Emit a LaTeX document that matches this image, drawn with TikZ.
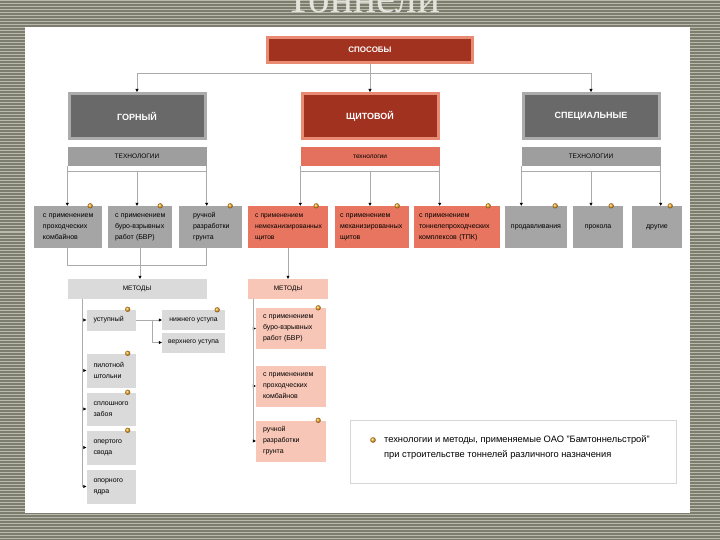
\documentclass[tikz,border=0pt]{standalone}
\usepackage{fontspec}
\setmainfont{Liberation Sans}
\newfontfamily\titlefont{Liberation Serif}
\usetikzlibrary{arrows.meta,positioning}
\definecolor{bgolive}{HTML}{7C7D6D}
\definecolor{bgline}{HTML}{B9BAAD}
\definecolor{darkred}{HTML}{A23220}
\definecolor{redrim}{HTML}{E98A72}
\definecolor{darkgr}{HTML}{696969}
\definecolor{grrim}{HTML}{ABABAB}
\definecolor{techgr}{HTML}{9E9E9E}
\definecolor{techred}{HTML}{E3715D}
\definecolor{kidgr}{HTML}{A5A5A5}
\definecolor{kidred}{HTML}{E8755F}
\definecolor{lightgr}{HTML}{DADADA}
\definecolor{lightred}{HTML}{F8C6B6}
\definecolor{wire}{HTML}{ABABAB}
\definecolor{legrim}{HTML}{D6D6D6}
\definecolor{dotc}{HTML}{F2A51E}
\definecolor{titlec}{HTML}{E4E4DC}

\begin{document}
\begin{tikzpicture}[x=1pt,y=-1pt,
  every node/.style={font=\fontsize{7}{11}\selectfont,inner sep=0pt},
  headbox/.style={line width=3pt,text=white,font=\bfseries\fontsize{9}{10}\selectfont,minimum width=136pt,minimum height=45pt},
  techbar/.style={minimum width=139pt,minimum height=19pt,font=\fontsize{6.5}{8}\selectfont},
  kid/.style 2 args={minimum height=42pt,text width=#1,align=left,inner xsep=0pt,execute at begin node={\leftskip=#2\relax}},
  kidc/.style={minimum height=42pt,text width=#1,align=center,inner xsep=0pt},
  metbox/.style={minimum width=#1,minimum height=20pt,font=\fontsize{6.5}{8}\selectfont},
  wirel/.style={draw=wire,line width=.6pt},
  link/.style={draw=wire,line width=.6pt,-{Triangle[length=3pt,width=3pt,color=black]}}]
\useasboundingbox (0,0) rectangle (720,540);
% background
\fill[bgolive] (0,0) rectangle (720,540);
\foreach \i in {0,...,179} \draw[bgline,line width=1pt] (0,3*\i+1) -- (720,3*\i+1);
\node[font=\titlefont\fontsize{43}{43}\selectfont,text=titlec,anchor=base] (title) at (363,13) {Тоннели};
\fill[white] (25,27) rectangle (690,513);

% top level
\node[headbox,fill=darkred,draw=redrim,minimum width=205pt,minimum height=25pt,font=\bfseries\fontsize{8}{9}\selectfont] (sposoby) at (370,50) {СПОСОБЫ};
\node[headbox,fill=darkgr,draw=grrim] (gorny) at (137,116) {ГОРНЫЙ};
\node[headbox,fill=darkred,draw=redrim] (shchit) at (370,116) {ЩИТОВОЙ};
\node[headbox,fill=darkgr,draw=grrim] (spec) at (591,116) {СПЕЦИАЛЬНЫЕ};

\node[techbar,fill=techgr] (tgor) at (137,156.5) {ТЕХНОЛОГИИ};
\node[techbar,fill=techred] (tshch) at (370,156.5) {технологии};
\node[techbar,fill=techgr] (tspec) at (591,156.5) {ТЕХНОЛОГИИ};

% technologies
\node[kid={68pt}{9pt},fill=kidgr] (g1) at (68,227) {с применением\\проходческих\\комбайнов};
\node[kid={64pt}{7pt},fill=kidgr] (g2) at (140,227) {с применением\\буро-взрывных\\работ (БВР)};
\node[kid={63pt}{14pt},fill=kidgr] (g3) at (210.5,227) {ручной\\разработки\\грунта};
\node[kid={80pt}{7pt},fill=kidred,font=\fontsize{6.7}{11}\selectfont] (s1) at (288,227) {с применением\\немеханизированных\\щитов};
\node[kid={74pt}{5pt},fill=kidred] (s2) at (372,227) {с применением\\механизированных\\щитов};
\node[kid={86pt}{5pt},fill=kidred] (s3) at (457,227) {с применением\\тоннелепроходческих\\комплексов (ТПК)};
\node[kidc=62pt,fill=kidgr] (r1) at (536,227) {продавливания};
\node[kidc=50pt,fill=kidgr] (r2) at (598,227) {прокола};
\node[kidc=50pt,fill=kidgr] (r3) at (657,227) {другие};

% methods
\node[metbox=139pt,fill=lightgr] (mg) at (137,289) {МЕТОДЫ};
\node[metbox=80pt,fill=lightred] (ms) at (288,289) {МЕТОДЫ};

\node[kid={49pt}{7pt},minimum height=21pt,fill=lightgr] (m1) at (111,320) {уступный};
\node[kid={49pt}{7pt},minimum height=34pt,fill=lightgr] (m2) at (111,370.5) {пилотной\\штольни};
\node[kid={49pt}{7pt},minimum height=33pt,fill=lightgr] (m3) at (111,409) {сплошного\\забоя};
\node[kid={49pt}{7pt},minimum height=34pt,fill=lightgr] (m4) at (111,447.5) {опертого\\свода};
\node[kid={49pt}{7pt},minimum height=34pt,fill=lightgr] (m5) at (111,486.5) {опорного\\ядра};
\node[metbox=63pt,fill=lightgr,font=\fontsize{6.8}{8}\selectfont] (n1) at (193.5,320) {нижнего уступа};
\node[metbox=63pt,fill=lightgr,font=\fontsize{6.8}{8}\selectfont] (n2) at (193.5,342.5) {верхнего уступа};

\node[kid={70pt}{7pt},minimum height=41pt,fill=lightred] (p1) at (291,328.5) {с применением\\буро-взрывных\\работ (БВР)};
\node[kid={70pt}{7pt},minimum height=41pt,fill=lightred] (p2) at (291,386) {с применением\\проходческих\\комбайнов};
\node[kid={70pt}{7pt},minimum height=41pt,fill=lightred] (p3) at (291,441) {ручной\\разработки\\грунта};

% legend
\node[draw=legrim,line width=1pt,fill=white,minimum width=326pt,minimum height=63pt] (legend) at (513,451.5) {};
\node[anchor=west,align=left,font=\fontsize{9.3}{15}\selectfont] (legtext) at (384,447.5) {технологии и методы, применяемые ОАО "Бамтоннельстрой"\\при строительстве тоннелей различного назначения};
\shade[ball color=dotc] (373,440) circle (2.8pt);

% connectors
\draw[link] (sposoby.south) -- ++(0,9) -| (gorny.north);
\draw[link] (sposoby.south) -- (shchit.north);
\draw[link] (sposoby.south) -- ++(0,9) -| (spec.north);
\foreach \t/\a/\b/\c in {tgor/g1/g2/g3,tshch/s1/s2/s3,tspec/r1/r2/r3}{
  \draw[wirel] ([yshift=-5pt]\t.south west) -- ([yshift=-5pt]\t.south east);
  \draw[link] (\t.south west) -- (\t.south west |- \a.north);
  \draw[link] ([yshift=-5pt]\t.south) -- (\t.south |- \b.north);
  \draw[link] (\t.south east) -- (\t.south east |- \c.north);
}
\draw[wirel] (tgor.south west |- g1.south) -- ++(0,17) -| (tgor.south east |- g3.south);
\draw[link] (g2.south) -- (g2.south |- mg.north);
\draw[link] (s1.south) -- (ms.north);

\coordinate (gspine) at (82,299);
\foreach \m in {m1,m2,m3,m4,m5} \draw[link] (gspine) |- (\m.west);
\draw[link] (m1.east) -- (n1.west);
\draw[link] (m1.east) ++(17,0) |- (n2.west);
\coordinate (sspine) at (253,299);
\foreach \p in {p1,p2,p3} \draw[link] (sspine) |- (\p.west);

% marker dots
\foreach \n in {g1,g2,g3,s1,s2,s3,r1,r2,r3}
  \shade[ball color=dotc] ([xshift=-12pt]\n.north east) circle (2.6pt);
\foreach \n in {m1,m2,m3,m4,n1,p1,p3}
  \shade[ball color=dotc] ([xshift=-8pt]\n.north east) circle (2.6pt);
\end{tikzpicture}
\end{document}
